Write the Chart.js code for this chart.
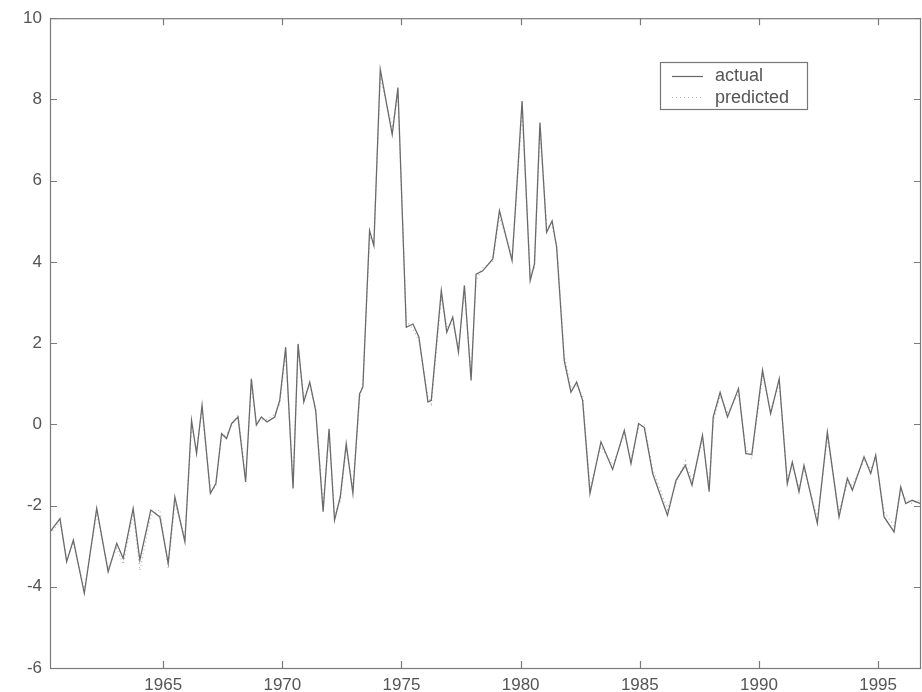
<!DOCTYPE html>
<html>
<head>
<meta charset="utf-8">
<script src="https://cdn.jsdelivr.net/npm/chart.js@4"></script>
<style>
  html, body { margin: 0; padding: 0; background: #fff; }
  #chart { display: block; }
</style>
</head>
<body>
<canvas id="chart" width="922" height="692"></canvas>
<script>
// data
const years = [1960.25, 1960.67, 1960.95, 1961.23, 1961.69, 1962.21, 1962.69, 1963.05, 1963.32, 1963.74,
  1964.02, 1964.48, 1964.86, 1965.21, 1965.49, 1965.91, 1966.19, 1966.40, 1966.63, 1966.98,
  1967.21, 1967.45, 1967.66, 1967.87, 1968.14, 1968.46, 1968.70, 1968.91, 1969.12, 1969.36,
  1969.68, 1969.89, 1970.14, 1970.45, 1970.66, 1970.90, 1971.15, 1971.40, 1971.71, 1971.96,
  1972.19, 1972.43, 1972.68, 1972.96, 1973.24, 1973.38, 1973.66, 1973.84, 1974.11, 1974.61,
  1974.85, 1975.20, 1975.48, 1975.73, 1976.11, 1976.25, 1976.67, 1976.90, 1977.15, 1977.39,
  1977.64, 1977.92, 1978.13, 1978.41, 1978.83, 1979.11, 1979.64, 1979.81, 1980.06, 1980.40,
  1980.58, 1980.81, 1981.09, 1981.32, 1981.51, 1981.83, 1982.11, 1982.35, 1982.60, 1982.91,
  1983.37, 1983.86, 1984.35, 1984.63, 1984.95, 1985.19, 1985.54, 1986.16, 1986.52, 1986.91,
  1987.19, 1987.63, 1987.91, 1988.08, 1988.37, 1988.68, 1989.14, 1989.45, 1989.70, 1990.15,
  1990.49, 1990.85, 1991.19, 1991.40, 1991.68, 1991.89, 1992.45, 1992.87, 1993.36, 1993.71,
  1993.92, 1994.41, 1994.69, 1994.90, 1995.25, 1995.67, 1995.95, 1996.16, 1996.43, 1996.79];

const actual = [-2.65, -2.32, -3.38, -2.85, -4.16, -2.07, -3.63, -2.93, -3.30, -2.07,
  -3.34, -2.11, -2.28, -3.42, -1.79, -2.89, 0.10, -0.72, 0.47, -1.70,
  -1.46, -0.23, -0.35, 0.02, 0.18, -1.42, 1.12, -0.02, 0.18, 0.06,
  0.18, 0.59, 1.90, -1.58, 1.98, 0.55, 1.04, 0.34, -2.15, -0.11,
  -2.36, -1.79, -0.48, -1.70, 0.75, 0.92, 4.77, 4.40, 8.74, 7.14,
  8.29, 2.39, 2.47, 2.15, 0.55, 0.59, 3.29, 2.27, 2.64, 1.78,
  3.42, 1.08, 3.70, 3.78, 4.07, 5.26, 4.03, 5.59, 7.96, 3.54,
  3.95, 7.43, 4.73, 5.01, 4.36, 1.57, 0.79, 1.04, 0.59, -1.70,
  -0.43, -1.11, -0.15, -0.97, 0.02, -0.08, -1.21, -2.24, -1.38, -1.01,
  -1.50, -0.27, -1.66, 0.18, 0.79, 0.18, 0.88, -0.72, -0.74, 1.33,
  0.26, 1.12, -1.46, -0.93, -1.66, -1.01, -2.44, -0.19, -2.28, -1.33,
  -1.62, -0.80, -1.21, -0.76, -2.28, -2.65, -1.54, -1.95, -1.87, -1.95];

const predicted = [-2.70, -2.40, -3.30, -2.95, -4.05, -2.20, -3.55, -3.05, -3.45, -2.20,
  -3.60, -2.25, -2.10, -3.55, -1.95, -2.80, -0.05, -0.60, 0.35, -1.60,
  -1.55, -0.30, -0.25, -0.05, 0.25, -1.30, 0.95, 0.05, 0.10, 0.12,
  0.25, 0.50, 1.75, -1.40, 1.85, 0.65, 0.95, 0.40, -2.00, -0.25,
  -2.20, -1.90, -0.60, -1.55, 0.60, 1.05, 4.60, 4.50, 8.55, 7.30,
  8.10, 2.55, 2.35, 2.05, 0.70, 0.50, 3.10, 2.40, 2.50, 1.90,
  3.25, 1.25, 3.55, 3.85, 4.00, 5.10, 4.15, 5.45, 7.75, 3.70,
  3.85, 7.25, 4.90, 4.85, 4.45, 1.70, 0.90, 0.95, 0.70, -1.55,
  -0.55, -1.00, -0.25, -0.85, -0.10, 0.00, -1.10, -2.10, -1.45, -0.90,
  -1.40, -0.40, -1.50, 0.05, 0.70, 0.30, 0.75, -0.60, -0.85, 1.20,
  0.35, 1.00, -1.35, -1.05, -1.55, -1.10, -2.30, -0.35, -2.15, -1.45,
  -1.50, -0.90, -1.10, -0.85, -2.15, -2.50, -1.65, -1.85, -1.95, -1.85];

const xTicks = [1965, 1970, 1975, 1980, 1985, 1990, 1995];
const yTicks = [-6, -4, -2, 0, 2, 4, 6, 8, 10];
const seriesNames = ['actual', 'predicted'];

const FONT = "'Liberation Sans', Arial, sans-serif";
const AXIS = '#7a7a7a';

// frame, inward ticks and the boxed legend (matlab style)
const framePlugin = {
  id: 'frame',
  afterDraw(chart) {
    const ctx = chart.ctx;
    const a = chart.chartArea;
    const sx = chart.scales.x, sy = chart.scales.y;
    ctx.save();
    ctx.strokeStyle = AXIS;
    ctx.lineWidth = 1.2;
    ctx.strokeRect(a.left + 0.5, a.top + 0.5, a.right - a.left - 1, a.bottom - a.top);

    ctx.beginPath();
    xTicks.forEach(v => {
      const px = Math.round(sx.getPixelForValue(v)) + 0.5;
      ctx.moveTo(px, a.bottom); ctx.lineTo(px, a.bottom - 7);
      ctx.moveTo(px, a.top); ctx.lineTo(px, a.top + 7);
    });
    yTicks.forEach(v => {
      const py = Math.round(sy.getPixelForValue(v)) + 0.5;
      ctx.moveTo(a.left, py); ctx.lineTo(a.left + 7, py);
      ctx.moveTo(a.right, py); ctx.lineTo(a.right - 7, py);
    });
    ctx.stroke();

    // legend
    const lx = 660, ly = 62, lw = 147, lh = 47;
    ctx.fillStyle = '#fff';
    ctx.fillRect(lx, ly, lw, lh);
    ctx.strokeStyle = '#777';
    ctx.lineWidth = 1.2;
    ctx.strokeRect(lx + 0.5, ly + 0.5, lw, lh);

    ctx.lineWidth = 1.2;
    ctx.strokeStyle = '#666';
    ctx.beginPath();
    ctx.moveTo(672, 76.5); ctx.lineTo(703, 76.5);
    ctx.stroke();
    ctx.strokeStyle = '#bbb';
    ctx.setLineDash([1, 3]);
    ctx.beginPath();
    ctx.moveTo(672, 97.5); ctx.lineTo(703, 97.5);
    ctx.stroke();
    ctx.setLineDash([]);

    ctx.fillStyle = '#555';
    ctx.font = '18px ' + FONT;
    ctx.textBaseline = 'middle';
    ctx.textAlign = 'left';
    ctx.fillText(seriesNames[0], 715, 76);
    ctx.fillText(seriesNames[1], 715, 98);
    ctx.restore();
  }
};

new Chart(document.getElementById('chart'), {
  type: 'line',
  data: {
    datasets: [
      {
        label: seriesNames[0],
        data: years.map((x, i) => ({ x: x, y: actual[i] })),
        borderColor: '#6a6a6a',
        borderWidth: 1.3,
        pointRadius: 0,
        tension: 0,
        fill: false
      },
      {
        label: seriesNames[1],
        data: years.map((x, i) => ({ x: x, y: predicted[i] })),
        borderColor: '#b5b5b5',
        borderWidth: 1.2,
        borderDash: [1, 3],
        pointRadius: 0,
        tension: 0,
        fill: false
      }
    ]
  },
  options: {
    responsive: false,
    animation: false,
    layout: { padding: { top: 17, right: 1, left: 0, bottom: 0 } },
    plugins: {
      legend: { display: false },
      tooltip: { enabled: false }
    },
    scales: {
      x: {
        type: 'linear',
        min: 1960.25,
        max: 1996.8,
        afterBuildTicks: scale => { scale.ticks = xTicks.map(v => ({ value: v })); },
        afterFit: scale => { scale.height = 24; },
        grid: { display: false, drawTicks: false },
        border: { display: false },
        ticks: {
          color: '#555',
          padding: 7,
          maxRotation: 0,
          autoSkip: false,
          font: { family: FONT, size: 17 },
          callback: v => String(v)
        }
      },
      y: {
        min: -6,
        max: 10,
        afterBuildTicks: scale => { scale.ticks = yTicks.map(v => ({ value: v })); },
        afterFit: scale => { scale.width = 50; },
        grid: { display: false, drawTicks: false },
        border: { display: false },
        ticks: {
          color: '#555',
          padding: 8,
          autoSkip: false,
          font: { family: FONT, size: 17 },
          callback: v => String(v)
        }
      }
    }
  },
  plugins: [framePlugin]
});
</script>
</body>
</html>
